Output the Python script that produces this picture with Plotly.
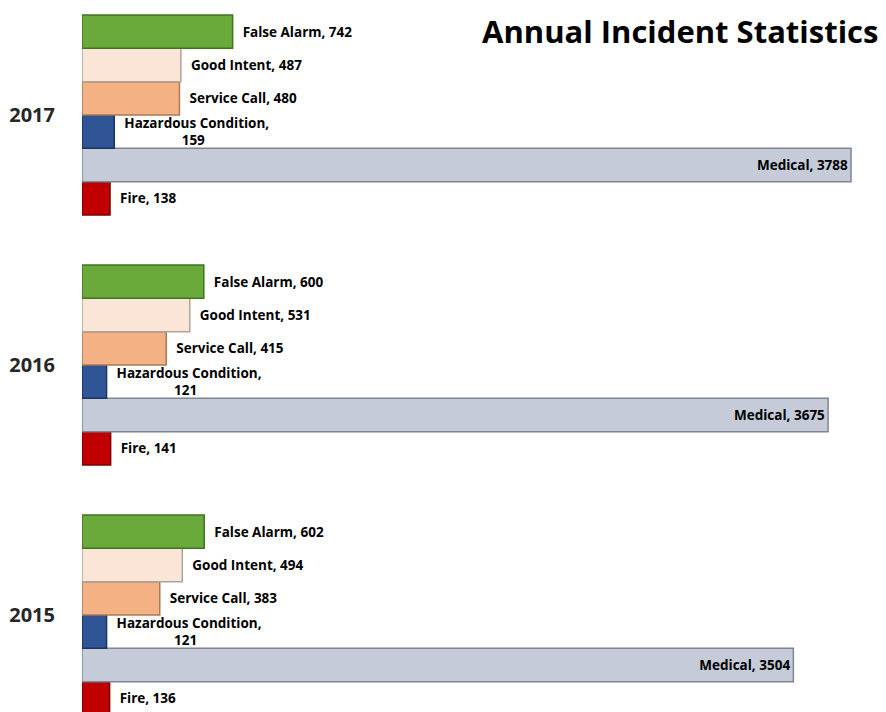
import plotly.graph_objects as go

years = ["2015", "2016", "2017"]
categories = ["Fire", "Medical", "Hazardous Condition", "Service Call", "Good Intent", "False Alarm"]
fire = [136, 141, 138]
medical = [3504, 3675, 3788]
hazardous = [121, 121, 159]
service_call = [383, 415, 480]
good_intent = [494, 531, 487]
false_alarm = [602, 600, 742]

series = [fire, medical, hazardous, service_call, good_intent, false_alarm]
fills = ["#c00000", "#c5cbd8", "#2f5597", "#f4b183", "#fbe5d6", "#6aaa3a"]
edges = ["#7a0000", "#7f8592", "#1c3560", "#a87a58", "#b0a49a", "#3f7420"]

fig = go.Figure()
for name, vals, fc, ec in zip(categories, series, fills, edges):
    inside = name == "Medical"
    if name == "Hazardous Condition":
        texts = ["\u00a0\u00a0Hazardous Condition,<br>%d" % v for v in vals]
    elif inside:
        texts = ["%s, %d" % (name, v) for v in vals]
    else:
        texts = ["\u00a0\u00a0%s, %d" % (name, v) for v in vals]
    fig.add_trace(go.Bar(
        y=years, x=vals, orientation="h", name=name,
        marker=dict(color=fc, line=dict(color=ec, width=1.5)),
        text=texts,
        textposition="inside" if inside else "outside",
        insidetextanchor="end",
        constraintext="none",
        cliponaxis=False,
        textfont=dict(family="Open Sans", size=13.5, color="black", weight="bold"),
        hoverinfo="skip",
    ))

# the page body adds an 8px offset; the figure is sized to fill the window
fig.update_layout(
    width=878, height=704,
    barmode="group", bargap=0.2, bargroupgap=0,
    showlegend=False,
    plot_bgcolor="white", paper_bgcolor="white",
    margin=dict(l=74, r=10, t=0, b=0, autoexpand=False),
    xaxis=dict(range=[0, 3911], visible=False, automargin=False),
    yaxis=dict(type="category", range=[-0.388, 2.428], showgrid=False, zeroline=False,
               showline=False, ticks="", ticklen=0, automargin=False,
               ticklabelstandoff=26,
               tickfont=dict(family="Open Sans", size=20, color="#262626", weight="bold")),
    annotations=[dict(text="<b>Annual Incident Statistics</b>", x=1.0, y=1.0,
                      xanchor="right", yanchor="top", xref="paper", yref="paper",
                      xshift=4, yshift=0, showarrow=False,
                      font=dict(family="Open Sans", size=31, color="black"))],
)
fig.write_html("out.html")
